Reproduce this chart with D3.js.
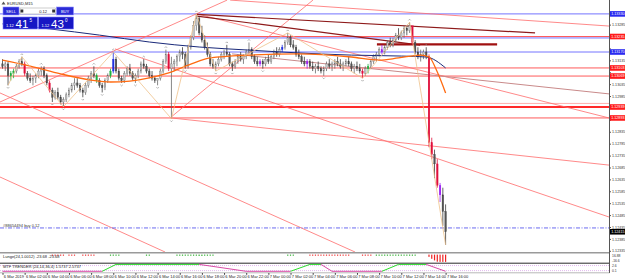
<!DOCTYPE html>
<html>
<head>
<meta charset="utf-8">
<title>EURUSD,M15</title>
<script src="https://cdn.jsdelivr.net/npm/d3@7/dist/d3.min.js"></script>
<style>
  html, body { margin: 0; padding: 0; background: #fff; }
  svg { display: block; font-family: 'Liberation Sans', Arial, sans-serif; }
</style>
</head>
<body>
<div id="chart"></div>
<script>
// EURUSD M15, one label every 8 bars
const timeLabels = [
  '6 Mar 2019', '6 Mar 02:00', '6 Mar 04:00', '6 Mar 06:00', '6 Mar 08:00', '6 Mar 10:00',
  '6 Mar 12:00', '6 Mar 14:00', '6 Mar 16:00', '6 Mar 18:00', '6 Mar 20:00', '6 Mar 22:00',
  '7 Mar 00:00', '7 Mar 02:00', '7 Mar 04:00', '7 Mar 06:00', '7 Mar 08:00', '7 Mar 10:00',
  '7 Mar 12:00', '7 Mar 14:00', '7 Mar 16:00',
];

const priceTicks = [
  1.12335, 1.12385, 1.12435, 1.12485, 1.12535, 1.12585, 1.12635, 1.12685, 1.12735, 1.12785,
  1.12835, 1.12885, 1.12935, 1.12985, 1.13035, 1.13085, 1.13135, 1.13185, 1.13235, 1.13285, 1.13335,
];

const opens = [
  1.1312, 1.1311, 1.1312, 1.1307, 1.1308, 1.1309, 1.1311, 1.1313, 1.1312, 1.1308,
  1.1306, 1.1305, 1.1306, 1.1307, 1.1309, 1.1310, 1.1307, 1.1304, 1.1301, 1.1298,
  1.1300, 1.1298, 1.1296, 1.1297, 1.1299, 1.1301, 1.1303, 1.1304, 1.1303, 1.1301,
  1.1300, 1.1303, 1.1306, 1.1308, 1.1307, 1.1305, 1.1303, 1.1302, 1.1305, 1.1307,
  1.1309, 1.1314, 1.1309, 1.1306, 1.1305, 1.1308, 1.1310, 1.1308, 1.1306, 1.1307,
  1.1309, 1.1312, 1.1311, 1.1309, 1.1307, 1.1306, 1.1305, 1.1306, 1.1309, 1.1313,
  1.1316, 1.1310, 1.1312, 1.1313, 1.1315, 1.1317, 1.1316, 1.1311, 1.1319, 1.1323,
  1.1328, 1.1331, 1.1325, 1.1322, 1.1319, 1.1316, 1.1312, 1.1311, 1.1312, 1.1314,
  1.1316, 1.1317, 1.1316, 1.1312, 1.1311, 1.1313, 1.1315, 1.1314, 1.1315, 1.1317,
  1.1318, 1.1315, 1.1313, 1.1312, 1.1313, 1.1312, 1.1314, 1.1313, 1.1315, 1.1317,
  1.1316, 1.1318, 1.1319, 1.1321, 1.1323, 1.1320, 1.1319, 1.1316, 1.1315, 1.1313,
  1.1312, 1.1313, 1.1311, 1.1310, 1.1311, 1.1310, 1.1309, 1.1310, 1.1312, 1.1311,
  1.1312, 1.1313, 1.1312, 1.1311, 1.1312, 1.1313, 1.1312, 1.1310, 1.1311, 1.1310,
  1.1309, 1.1308, 1.1310, 1.1311, 1.1313, 1.1315, 1.1316, 1.1318, 1.1317, 1.1319,
  1.1321, 1.1320, 1.1322, 1.1324, 1.1323, 1.1325, 1.1327, 1.1326, 1.1328, 1.1321,
  1.1317, 1.1315, 1.1316, 1.1317, 1.1315, 1.1279, 1.1274, 1.1270, 1.1261, 1.1257, 1.1250,
];
const highs = [
  1.1314, 1.1313, 1.1313, 1.1309, 1.1310, 1.1312, 1.1314, 1.1315, 1.1313, 1.1309,
  1.1308, 1.1307, 1.1308, 1.1310, 1.1311, 1.1311, 1.1308, 1.1305, 1.1302, 1.1301,
  1.1302, 1.1299, 1.1298, 1.1300, 1.1302, 1.1304, 1.1306, 1.1306, 1.1304, 1.1302,
  1.1304, 1.1307, 1.1309, 1.1311, 1.1308, 1.1306, 1.1304, 1.1306, 1.1308, 1.1310,
  1.1317, 1.1315, 1.1310, 1.1307, 1.1309, 1.1311, 1.1312, 1.1309, 1.1308, 1.1310,
  1.1313, 1.1314, 1.1312, 1.1310, 1.1309, 1.1307, 1.1306, 1.1310, 1.1314, 1.1318,
  1.1317, 1.1315, 1.1314, 1.1316, 1.1318, 1.1319, 1.1317, 1.1320, 1.1324, 1.1330,
  1.1333, 1.1332, 1.1328, 1.1324, 1.1321, 1.1317, 1.1314, 1.1313, 1.1315, 1.1317,
  1.1318, 1.1320, 1.1317, 1.1313, 1.1314, 1.1316, 1.1317, 1.1316, 1.1318, 1.1321,
  1.1319, 1.1316, 1.1315, 1.1314, 1.1314, 1.1315, 1.1316, 1.1316, 1.1318, 1.1319,
  1.1319, 1.1320, 1.1322, 1.1325, 1.1324, 1.1322, 1.1320, 1.1318, 1.1316, 1.1315,
  1.1314, 1.1314, 1.1313, 1.1312, 1.1313, 1.1311, 1.1311, 1.1313, 1.1314, 1.1313,
  1.1314, 1.1315, 1.1314, 1.1313, 1.1314, 1.1315, 1.1313, 1.1312, 1.1313, 1.1312,
  1.1310, 1.1311, 1.1312, 1.1314, 1.1316, 1.1317, 1.1319, 1.1320, 1.1320, 1.1322,
  1.1323, 1.1323, 1.1325, 1.1327, 1.1326, 1.1328, 1.1328, 1.13295, 1.1328, 1.1322,
  1.1319, 1.1318, 1.1318, 1.1319, 1.1316, 1.1281, 1.1276, 1.1272, 1.1262, 1.1260, 1.1253,
];
const lows = [
  1.1310, 1.1309, 1.1303, 1.1305, 1.1306, 1.1308, 1.1310, 1.1311, 1.1307, 1.1305,
  1.1304, 1.1303, 1.1304, 1.1306, 1.1307, 1.1306, 1.1303, 1.1300, 1.1296, 1.1297,
  1.1297, 1.1295, 1.1294, 1.1296, 1.1298, 1.1300, 1.1301, 1.1302, 1.1300, 1.1298,
  1.1299, 1.1302, 1.1304, 1.1306, 1.1304, 1.1302, 1.1300, 1.1301, 1.1304, 1.1306,
  1.1308, 1.1308, 1.1305, 1.1304, 1.1304, 1.1307, 1.1307, 1.1305, 1.1304, 1.1306,
  1.1308, 1.1310, 1.1308, 1.1306, 1.1305, 1.1304, 1.1303, 1.1305, 1.1308, 1.1312,
  1.1309, 1.1289, 1.1309, 1.1311, 1.1313, 1.1314, 1.1310, 1.1310, 1.1318, 1.1322,
  1.1326, 1.1324, 1.1321, 1.1318, 1.1315, 1.1311, 1.1310, 1.1309, 1.1311, 1.1313,
  1.1314, 1.1315, 1.1311, 1.1309, 1.1310, 1.1312, 1.1313, 1.1312, 1.1314, 1.1316,
  1.1314, 1.1312, 1.1311, 1.1311, 1.1310, 1.1311, 1.1312, 1.1312, 1.1314, 1.1315,
  1.1315, 1.1317, 1.1318, 1.1320, 1.1319, 1.1318, 1.1315, 1.1314, 1.1312, 1.1311,
  1.1310, 1.1310, 1.1309, 1.1308, 1.1309, 1.1308, 1.1307, 1.1309, 1.1310, 1.1309,
  1.1310, 1.1311, 1.1310, 1.1309, 1.1311, 1.1311, 1.1309, 1.1308, 1.1309, 1.1308,
  1.1306, 1.1307, 1.1308, 1.1310, 1.1312, 1.1313, 1.1315, 1.1316, 1.1316, 1.1318,
  1.1319, 1.1319, 1.1321, 1.1322, 1.1322, 1.1323, 1.1324, 1.1325, 1.1320, 1.1316,
  1.1314, 1.1313, 1.1314, 1.1314, 1.1277, 1.1272, 1.1264, 1.1260, 1.1254, 1.1244, 1.1236,
];
const closes = [
  1.1311, 1.1312, 1.1307, 1.1308, 1.1309, 1.1311, 1.1313, 1.1312, 1.1308, 1.1306,
  1.1305, 1.1306, 1.1307, 1.1309, 1.1310, 1.1307, 1.1304, 1.1301, 1.1298, 1.1300,
  1.1298, 1.1296, 1.1297, 1.1299, 1.1301, 1.1303, 1.1304, 1.1303, 1.1301, 1.1300,
  1.1303, 1.1306, 1.1308, 1.1307, 1.1305, 1.1303, 1.1302, 1.1305, 1.1307, 1.1309,
  1.1314, 1.1309, 1.1306, 1.1305, 1.1308, 1.1310, 1.1308, 1.1306, 1.1307, 1.1309,
  1.1312, 1.1311, 1.1309, 1.1307, 1.1306, 1.1305, 1.1306, 1.1309, 1.1313, 1.1316,
  1.1310, 1.1312, 1.1313, 1.1315, 1.1317, 1.1316, 1.1311, 1.1319, 1.1323, 1.1328,
  1.1331, 1.1325, 1.1322, 1.1319, 1.1316, 1.1312, 1.1311, 1.1312, 1.1314, 1.1316,
  1.1317, 1.1316, 1.1312, 1.1311, 1.1313, 1.1315, 1.1314, 1.1315, 1.1317, 1.1318,
  1.1315, 1.1313, 1.1312, 1.1313, 1.1312, 1.1314, 1.1313, 1.1315, 1.1317, 1.1316,
  1.1318, 1.1319, 1.1321, 1.1323, 1.1320, 1.1319, 1.1316, 1.1315, 1.1313, 1.1312,
  1.1313, 1.1311, 1.1310, 1.1311, 1.1310, 1.1309, 1.1310, 1.1312, 1.1311, 1.1312,
  1.1313, 1.1312, 1.1311, 1.1312, 1.1313, 1.1312, 1.1310, 1.1311, 1.1310, 1.1309,
  1.1308, 1.1310, 1.1311, 1.1313, 1.1315, 1.1316, 1.1318, 1.1317, 1.1319, 1.1321,
  1.1320, 1.1322, 1.1324, 1.1323, 1.1325, 1.1327, 1.1326, 1.1328, 1.1321, 1.1317,
  1.1315, 1.1316, 1.1317, 1.1315, 1.1279, 1.1274, 1.1270, 1.1261, 1.1257, 1.1250, 1.12415,
];

// bars painted by the colour indicator
const upSignalBars = [3, 4, 34, 39, 132];
const downSignalBars = [8, 17, 60, 130, 148, 154, 155, 157];
const breakoutBars = [40, 101];
const reversalBars = [93, 110, 137, 158];

// fractals and zigzag
const fractalUp = [7, 14, 33, 40, 51, 59, 70, 81, 89, 103, 147, 153];
const fractalDown = [2, 18, 22, 29, 36, 43, 48, 56, 61, 66, 77, 83, 94, 116, 130];
const zigzagIdx = [2, 7, 22, 40, 61, 70, 77, 103, 130, 147, 160];
const zigzagPrice = [1.1303, 1.1315, 1.1294, 1.1317, 1.1289, 1.1333, 1.1309, 1.1325, 1.1306, 1.13295, 1.1236];

// moving averages (read at a few bars)
const fastMaIdx = [0, 10, 21, 32, 39, 46, 53, 60, 68, 75, 89, 107, 126, 136, 143, 151, 154, 157, 160];
const fastMa = [1.13136, 1.13111, 1.13078, 1.13052, 1.13044, 1.13048, 1.13061, 1.13082, 1.13119, 1.13145,
  1.13157, 1.13162, 1.13149, 1.13136, 1.13145, 1.13157, 1.13149, 1.13086, 1.12998];
const slowMaIdx = [0, 17, 35, 53, 71, 89, 107, 126, 144, 153, 160];
const slowMa = [1.13288, 1.13267, 1.13241, 1.13212, 1.13191, 1.13178, 1.13166, 1.13157, 1.13153, 1.13149, 1.13103];

// horizontal levels
const blueLevels = [1.13330, 1.13229, 1.13170];
const redLevels = [1.13235, 1.13103, 1.13069, 1.12939, 1.12893];
const faintLevels = [1.12954];
const buyOrder = 1.12431;
const bid = 1.12415;

// trend lines: [bar, price, bar, price]
const redTrendLines = [
  [82.2, 1.13388, 219, 1.13279],
  [60.5, 1.12893, 112.1, 1.13388],
  [-0.9, 1.12960, 81.1, 1.13388],
  [40.6, 1.13183, 219, 1.12477],
  [60.9, 1.12893, 219, 1.12695],
  [-0.9, 1.12998, 127.3, 1.12330],
  [-0.9, 1.12645, 58.7, 1.12330],
  [70.2, 1.13330, 219, 1.12893],
];
const channelLines = [[82.9, 1.13162, 219, 1.12994]];
const darkTrendLines = [
  [70.2, 1.13328, 192.3, 1.13250],
  [70.2, 1.13321, 150.8, 1.13199],
];
const darkLevelLine = [135.2, 1.13202, 178.6, 1.13202];

// sub-window 1: Lunge histogram
const lungeIdx = [18, 19, 20, 21, 22, 24, 25, 26, 29, 30, 31, 32, 33,
  39, 40, 41, 42, 52, 53,
  63, 64, 65, 66, 67, 68, 69, 70, 71, 72, 73, 74, 75, 76,
  103, 104, 105,
  111, 112, 113, 114, 115, 116, 117, 118, 119, 120, 121, 122, 123, 124, 125,
  130, 131, 132, 133,
  135, 136, 137, 138, 139, 140, 141, 142, 143, 144, 145, 146, 147, 148, 149,
  154, 155, 156, 157, 158, 159, 160];
const lungeVal = [-2, -2, -2, -2, -2, -2, -2, -2, -2, -2, -2, -2, -2,
  2, 2, 2, 2, 2, 2,
  2, 2, 2, 2, 2, 2, 2, 4, 5, 5, 4, 4, 3, 2,
  2, 2, 2,
  -2, -2, -2, -2, -2, -2, -2, -2, -2, -2, -2, -2, -2, -2, -2,
  -2, -2, -2, -2,
  2, 2, 2, 2, 2, 2, 2, 2, 3, 3, 3, 3, 3, 3, 2,
  -8, -14, -19, -23, -23.68, -23.68, -23.68];

// sub-window 2: MTF trender
const mtfIdx = [0, 36, 41, 71, 88, 104, 111, 115, 119, 137, 143, 153, 160];
const mtfVal = [0, 0, 1, 1, 0, 0, 1, 1, 0, 0, 1, 1, 0];
const mtfLevels = [0.83, 0.1];
const subLabels = ['16.88', '-16.6', '2.6', '0.1'];

// ---------------------------------------------------------------
const width = 625;
const height = 280;
const plotRight = 609;
const plotBottom = 252;
const labelFont = 3.7;

const svg = d3.select('#chart')
  .append('svg')
  .attr('width', width)
  .attr('height', height);

const x = d3.scaleLinear().domain([0, 219]).range([2.5, plotRight]);
const y = d3.scaleLinear().domain([1.12330, 1.13380]).range([plotBottom, 2]);

svg.append('clipPath').attr('id', 'plot-clip')
  .append('rect')
  .attr('x', 0).attr('y', 0)
  .attr('width', plotRight).attr('height', plotBottom);

const main = svg.append('g').attr('clip-path', 'url(#plot-clip)');

// levels
main.selectAll('.blue-level').data(blueLevels).enter()
  .append('line').attr('class', 'blue-level')
  .attr('x1', 0).attr('x2', plotRight)
  .attr('y1', d => y(d)).attr('y2', d => y(d))
  .attr('stroke', '#7474ff').attr('stroke-width', 1);

main.selectAll('.faint-level').data(faintLevels).enter()
  .append('line').attr('class', 'faint-level')
  .attr('x1', 0).attr('x2', plotRight)
  .attr('y1', d => y(d)).attr('y2', d => y(d))
  .attr('stroke', '#ffb0b0').attr('stroke-width', 1);

main.selectAll('.red-level').data(redLevels).enter()
  .append('line').attr('class', 'red-level')
  .attr('x1', 0).attr('x2', plotRight)
  .attr('y1', d => y(d)).attr('y2', d => y(d))
  .attr('stroke', (d, i) => (i === 3 ? '#ff2a2a' : '#ff5a5a'))
  .attr('stroke-width', (d, i) => (i === 3 ? 1.8 : 1));

const trendPath = d => `M${x(d[0])},${y(d[1])}L${x(d[2])},${y(d[3])}`;

main.selectAll('.trend').data(redTrendLines).enter()
  .append('path').attr('class', 'trend')
  .attr('d', trendPath)
  .attr('stroke', '#ff6b6b').attr('stroke-width', 0.8).attr('fill', 'none');

main.selectAll('.channel').data(channelLines).enter()
  .append('path').attr('class', 'channel')
  .attr('d', trendPath)
  .attr('stroke', '#c98a8a').attr('stroke-width', 1).attr('fill', 'none');

main.selectAll('.dark-trend').data(darkTrendLines).enter()
  .append('path').attr('class', 'dark-trend')
  .attr('d', trendPath)
  .attr('stroke', '#8e1a1a').attr('stroke-width', 1.2).attr('fill', 'none');

main.append('path')
  .attr('d', trendPath(darkLevelLine))
  .attr('stroke', '#a01010').attr('stroke-width', 2.4);

// pending buy order
main.append('line')
  .attr('x1', 0).attr('x2', plotRight)
  .attr('y1', y(buyOrder)).attr('y2', y(buyOrder))
  .attr('stroke', '#5a5aee').attr('stroke-width', 0.9)
  .attr('stroke-dasharray', '4,1.5,1,1.5');
main.append('text')
  .attr('x', 3).attr('y', y(buyOrder) - 1.2)
  .attr('font-size', 4).attr('fill', '#333')
  .text('#88654494 buy 0.12');

// candles
const bars = closes.map((c, i) => ({ i, o: opens[i], h: highs[i], l: lows[i], c }));
const signalColour = {};
upSignalBars.forEach((i) => { signalColour[i] = '#1fb040'; });
downSignalBars.forEach((i) => { signalColour[i] = '#e0103c'; });
breakoutBars.forEach((i) => { signalColour[i] = '#1f2fe0'; });
reversalBars.forEach((i) => { signalColour[i] = '#9a1ff0'; });

const barStroke = d => signalColour[d.i] || (d.c >= d.o ? '#6a6a6a' : '#3c3c3c');
const barFill = d => signalColour[d.i] || (d.c >= d.o ? '#c4c4c4' : '#555');

const candle = main.selectAll('.candle').data(bars).enter()
  .append('g').attr('class', 'candle');

candle.append('line')
  .attr('x1', d => x(d.i)).attr('x2', d => x(d.i))
  .attr('y1', d => y(d.h)).attr('y2', d => y(d.l))
  .attr('stroke', barStroke).attr('stroke-width', 0.8);

candle.append('rect')
  .attr('x', d => x(d.i) - 0.8)
  .attr('width', 1.6)
  .attr('y', d => y(Math.max(d.o, d.c)))
  .attr('height', d => Math.max(0.7, Math.abs(y(d.o) - y(d.c))))
  .attr('fill', barFill)
  .attr('stroke', barStroke).attr('stroke-width', 0.3);

// moving averages
const maLine = d3.line().x(d => x(d[0])).y(d => y(d[1])).curve(d3.curveMonotoneX);

main.append('path')
  .datum(slowMaIdx.map((d, k) => [d, slowMa[k]]))
  .attr('d', maLine)
  .attr('fill', 'none').attr('stroke', '#1a2a7a').attr('stroke-width', 1);

main.append('path')
  .datum(fastMaIdx.map((d, k) => [d, fastMa[k]]))
  .attr('d', maLine)
  .attr('fill', 'none').attr('stroke', '#ff6a10').attr('stroke-width', 1.3);

// zigzag
main.append('path')
  .datum(zigzagIdx.map((d, k) => [d, zigzagPrice[k]]))
  .attr('d', d3.line().x(d => x(d[0])).y(d => y(d[1])))
  .attr('fill', 'none').attr('stroke', '#efc28a').attr('stroke-width', 0.8);

// fractals
main.selectAll('.fractal-up').data(fractalUp).enter()
  .append('path').attr('class', 'fractal-up')
  .attr('d', (d) => {
    const cx = x(d);
    const cy = y(highs[d]) - 3;
    return `M${cx - 1.2},${cy + 1.2}L${cx},${cy}L${cx + 1.2},${cy + 1.2}`;
  })
  .attr('fill', 'none').attr('stroke', '#808080').attr('stroke-width', 0.6);

main.selectAll('.fractal-down').data(fractalDown).enter()
  .append('path').attr('class', 'fractal-down')
  .attr('d', (d) => {
    const cx = x(d);
    const cy = y(lows[d]) + 3;
    return `M${cx - 1.2},${cy - 1.2}L${cx},${cy}L${cx + 1.2},${cy - 1.2}`;
  })
  .attr('fill', 'none').attr('stroke', '#808080').attr('stroke-width', 0.6);

// price axis
const levelTags = [
  ...blueLevels.filter((d, i) => i !== 1).map(d => ({ p: d, fill: '#2a2af0' })),
  ...redLevels.map(d => ({ p: d, fill: '#ff1a1a' })),
  { p: bid, fill: '#000' },
];
const tagged = p => levelTags.some(t => Math.abs(y(t.p) - y(p)) < 4.5);

const yAxis = d3.axisRight(y)
  .tickValues(priceTicks)
  .tickFormat(d => (tagged(d) ? '' : d3.format('.5f')(d)))
  .tickSize(1.5)
  .tickPadding(1);

svg.append('g')
  .attr('transform', `translate(${plotRight + 0.5},0)`)
  .call(yAxis)
  .call(g => g.select('.domain').remove())
  .call(g => g.selectAll('line').attr('stroke', '#555'))
  .attr('font-size', labelFont)
  .attr('font-family', 'Liberation Sans, Arial, sans-serif')
  .call(g => g.selectAll('text').attr('fill', '#333'));

svg.append('line')
  .attr('x1', plotRight + 0.5).attr('x2', plotRight + 0.5)
  .attr('y1', 0).attr('y2', 273)
  .attr('stroke', '#555').attr('stroke-width', 1);

const tag = svg.selectAll('.level-tag').data(levelTags).enter()
  .append('g').attr('class', 'level-tag')
  .attr('transform', d => `translate(${plotRight + 1},${y(d.p)})`);
tag.append('rect')
  .attr('x', 0).attr('y', -2.8)
  .attr('width', 15).attr('height', 5.6)
  .attr('fill', d => d.fill);
tag.append('text')
  .attr('x', 1.2).attr('y', 1.3)
  .attr('font-size', labelFont)
  .attr('fill', '#fff')
  .text(d => d3.format('.5f')(d.p));

// sub-window 1
svg.append('line')
  .attr('x1', 0).attr('x2', plotRight)
  .attr('y1', 252.8).attr('y2', 252.8)
  .attr('stroke', '#9a9a9a').attr('stroke-width', 1.6);

const hy = d3.scaleLinear().domain([0, 24]).range([254.3, 262]);
svg.selectAll('.lunge').data(lungeIdx).enter()
  .append('rect').attr('class', 'lunge')
  .attr('x', d => x(d) - 0.6)
  .attr('width', 1.2)
  .attr('y', 254.6)
  .attr('height', (d, k) => Math.max(1.1, hy(Math.abs(lungeVal[k])) - 254.6))
  .attr('fill', (d, k) => (lungeVal[k] < 0 ? '#ee2222' : '#22aa22'));

svg.append('text')
  .attr('x', 3).attr('y', 258.4)
  .attr('font-size', 4).attr('fill', '#222')
  .text('Lunge(24,1.0012) -23.68 -23.68');

svg.append('line')
  .attr('x1', 0).attr('x2', plotRight)
  .attr('y1', 263.2).attr('y2', 263.2)
  .attr('stroke', '#111').attr('stroke-width', 0.9);

// sub-window 2
const my = d3.scaleLinear().domain([0, 1]).range([271.3, 264.4]);
svg.selectAll('.mtf-level').data(mtfLevels).enter()
  .append('line').attr('class', 'mtf-level')
  .attr('x1', 0).attr('x2', plotRight)
  .attr('y1', d => my(d)).attr('y2', d => my(d))
  .attr('stroke', '#d9a6ea').attr('stroke-width', 0.8)
  .attr('stroke-dasharray', '1,1');

const mtfSegments = mtfIdx.slice(1).map((d, k) => ({
  a: [mtfIdx[k], mtfVal[k]],
  b: [d, mtfVal[k + 1]],
}));
svg.selectAll('.mtf').data(mtfSegments).enter()
  .append('line').attr('class', 'mtf')
  .attr('x1', d => x(d.a[0])).attr('y1', d => my(d.a[1]))
  .attr('x2', d => x(d.b[0])).attr('y2', d => my(d.b[1]))
  .attr('stroke', d => (d.b[1] > d.a[1] || (d.a[1] === 1 && d.b[1] === 1) ? '#2bdc2b' : '#d94ba6'))
  .attr('stroke-width', 1);

svg.append('text')
  .attr('x', 3).attr('y', 267.6)
  .attr('font-size', 4).attr('fill', '#222')
  .text('MTF TRENDER (24,14,36,4) 1.5737 2.5737');

const subLabelY = [256.9, 261.6, 267.4, 272];
svg.selectAll('.sub-label').data(subLabels).enter()
  .append('text').attr('class', 'sub-label')
  .attr('x', plotRight + 3).attr('y', (d, k) => subLabelY[k])
  .attr('font-size', 3.4).attr('fill', '#333')
  .text(d => d);

// time axis
svg.append('line')
  .attr('x1', 0).attr('x2', plotRight + 0.5)
  .attr('y1', 272.8).attr('y2', 272.8)
  .attr('stroke', '#888').attr('stroke-width', 0.6);

const xAxis = d3.axisBottom(x)
  .tickValues(timeLabels.map((d, k) => k * 8))
  .tickFormat((d, k) => timeLabels[k])
  .tickSize(1.8);

svg.append('g')
  .attr('transform', 'translate(0,273)')
  .call(xAxis)
  .call(g => g.select('.domain').remove())
  .call(g => g.selectAll('line').attr('stroke', '#444'))
  .attr('font-size', 4)
  .attr('font-family', 'Liberation Sans, Arial, sans-serif')
  .call(g => g.selectAll('text')
    .attr('text-anchor', 'start')
    .attr('x', 0.8)
    .attr('y', 2.4)
    .attr('fill', '#222'));

// header and one-click trading panel
svg.append('path')
  .attr('d', 'M1.5,4.5L3.5,1.5L5.5,4.5Z')
  .attr('fill', '#555');
svg.append('text')
  .attr('x', 7).attr('y', 4.6)
  .attr('font-size', 4).attr('fill', '#222')
  .text('EURUSD,M15');

const panel = svg.append('g').attr('class', 'trade-panel');

const buttons = [
  { x: 3, w: 16, label: 'SELL' },
  { x: 56.5, w: 17, label: 'BUY' },
];
panel.selectAll('.btn').data(buttons).enter()
  .append('rect').attr('class', 'btn')
  .attr('x', d => d.x).attr('y', 7)
  .attr('width', d => d.w).attr('height', 8)
  .attr('fill', '#2b2bd6').attr('stroke', '#8d8dff').attr('stroke-width', 0.6);
panel.selectAll('.btn-text').data(buttons).enter()
  .append('text').attr('class', 'btn-text')
  .attr('x', d => d.x + d.w / 2).attr('y', 12.6)
  .attr('text-anchor', 'middle')
  .attr('font-size', 4).attr('fill', '#fff')
  .text(d => d.label);

panel.append('rect')
  .attr('x', 20).attr('y', 8).attr('width', 35.5).attr('height', 6)
  .attr('fill', '#fff').attr('stroke', '#9a9a9a').attr('stroke-width', 0.5);
panel.append('rect')
  .attr('x', 20.5).attr('y', 9.5).attr('width', 2.8).attr('height', 3)
  .attr('fill', '#333');
panel.append('rect')
  .attr('x', 52.2).attr('y', 9.5).attr('width', 2.8).attr('height', 3)
  .attr('fill', '#333');
panel.append('text')
  .attr('x', 47).attr('y', 12.5)
  .attr('text-anchor', 'end')
  .attr('font-size', 4).attr('fill', '#222')
  .text('0.12');

const quotes = [
  { x: 3, w: 34.5, big: '41', small: '5' },
  { x: 38.5, w: 35, big: '43', small: '0' },
];
const quote = panel.selectAll('.quote').data(quotes).enter()
  .append('g').attr('class', 'quote')
  .attr('transform', d => `translate(${d.x},17)`);
quote.append('rect')
  .attr('width', d => d.w).attr('height', 12)
  .attr('fill', '#1717c4').attr('stroke', '#8080ff').attr('stroke-width', 0.6);
quote.append('text')
  .attr('x', 3).attr('y', 10)
  .attr('font-size', 4).attr('fill', '#fff')
  .text('1.12');
quote.append('text')
  .attr('x', 12.5).attr('y', 10.8)
  .attr('font-size', 11.5).attr('fill', '#fff')
  .text(d => d.big);
quote.append('text')
  .attr('x', 26.5).attr('y', 5)
  .attr('font-size', 4.5).attr('fill', '#fff')
  .text(d => d.small);
</script>
</body>
</html>
